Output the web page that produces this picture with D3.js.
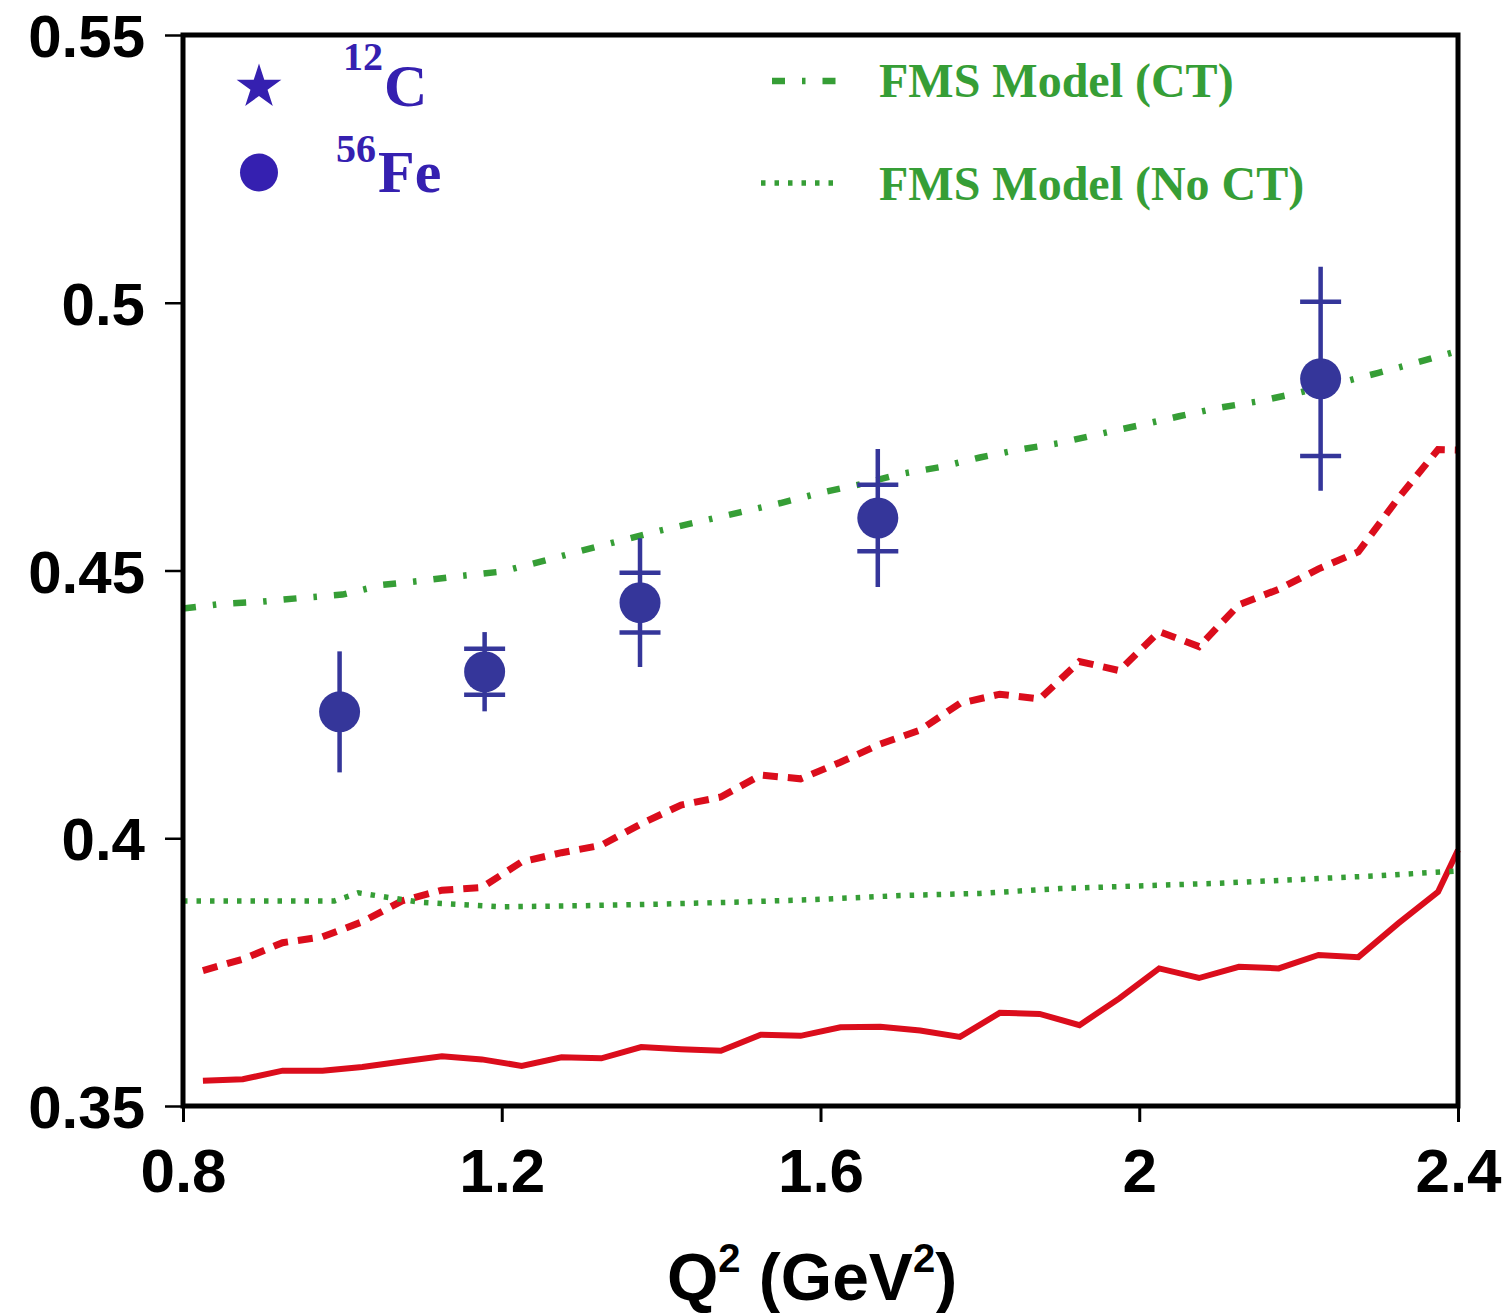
<!DOCTYPE html>
<html><head><meta charset="utf-8">
<script src="https://cdn.jsdelivr.net/npm/d3@7/dist/d3.min.js"></script>
<style>body{margin:0;background:#fff}</style>
</head><body><svg id="chart" width="1502" height="1313"></svg>
<script>
// ---- data ----
const gridQ = [0.825,0.875,0.925,0.975,1.025,1.075,1.125,1.175,1.225,1.275,1.325,1.375,1.425,1.475,1.525,1.575,1.625,1.675,1.725,1.775,1.825,1.875,1.925,1.975,2.025,2.075,2.125,2.175,2.225,2.275,2.325,2.375,2.4];
const redSolid = [0.3547,0.3550,0.3566,0.3566,0.3573,0.3583,0.3593,0.3587,0.3575,0.3591,0.3589,0.3610,0.3606,0.3603,0.3633,0.3631,0.3647,0.3648,0.3641,0.3629,0.3674,0.3672,0.3651,0.3701,0.3757,0.3739,0.3760,0.3757,0.3782,0.3778,0.3841,0.3900,0.3978];
const redDashed = [0.3753,0.3774,0.3805,0.3816,0.3844,0.3883,0.3903,0.3908,0.3956,0.3973,0.3987,0.4027,0.4062,0.4077,0.4118,0.4111,0.4142,0.4176,0.4202,0.4252,0.4269,0.4260,0.4330,0.4313,0.4386,0.4358,0.4436,0.4465,0.4503,0.4535,0.4635,0.4726,0.4725];
const ctQ = [0.80,0.85,0.90,0.95,1.00,1.05,1.10,1.15,1.20,1.25,1.30,1.35,1.40,1.45,1.50,1.55,1.60,1.65,1.70,1.75,1.80,1.85,1.90,1.95,2.00,2.05,2.10,2.15,2.20,2.25,2.30,2.35,2.40];
const ctVal = [0.4429,0.4438,0.4442,0.4449,0.4455,0.4473,0.4481,0.4490,0.4498,0.4517,0.4537,0.4556,0.4575,0.4592,0.4609,0.4626,0.4645,0.4661,0.4680,0.4693,0.4711,0.4726,0.4738,0.4755,0.4771,0.4788,0.4804,0.4816,0.4832,0.4850,0.4869,0.4889,0.4910];
const noCtQ = [0.80,0.99,1.02,1.10,1.20,1.30,1.40,1.50,1.60,1.70,1.80,1.90,2.00,2.10,2.20,2.30,2.40];
const noCtVal = [0.3883,0.3883,0.3898,0.3880,0.3872,0.3874,0.3877,0.3881,0.3886,0.3893,0.3897,0.3906,0.3911,0.3916,0.3923,0.3930,0.3939];
const feQ = [0.9965,1.1785,1.3735,1.6719,2.2276];
const feVal = [0.4236,0.4311,0.4440,0.4598,0.4858];
const feStat = [0,0.0043,0.0056,0.0062,0.0144];
const feTot = [0.0113,0.0074,0.0120,0.0129,0.0209];
const xTicks = [0.8,1.2,1.6,2.0,2.4];
const xTickLabels = ["0.8","1.2","1.6","2","2.4"];
const yTicks = [0.35,0.4,0.45,0.5,0.55];
const yTickLabels = ["0.35","0.4","0.45","0.5","0.55"];
const legendRight = ["FMS Model (CT)","FMS Model (No CT)"];

// ---- styles ----
const RED = "#db0d1c", GREEN = "#369e36", BLUE = "#35369a", LBLUE = "#3520b0";
const svg = d3.select("#chart");
svg.append("rect").attr("width",1502).attr("height",1313).attr("fill","#fff");

const x = d3.scaleLinear().domain([0.8,2.4]).range([183,1458]);
const y = d3.scaleLinear().domain([0.35,0.55]).range([1106,35]);

// axes
const xAxis = d3.axisBottom(x).tickValues(xTicks).tickSize(16).tickPadding(26)
  .tickFormat((d,i)=>xTickLabels[i]);
const gx = svg.append("g").attr("transform","translate(0,1106)").call(xAxis);
gx.select(".domain").remove();
gx.selectAll(".tick line").attr("stroke","#000").attr("stroke-width",3);
gx.selectAll(".tick text").attr("font-family","'Liberation Sans', Arial, sans-serif")
  .attr("font-weight","bold").attr("font-size",62).attr("fill","#000");

const yAxis = d3.axisLeft(y).tickValues(yTicks).tickSize(18).tickPadding(20)
  .tickFormat((d,i)=>yTickLabels[i]);
const gy = svg.append("g").attr("transform","translate(183,0)").call(yAxis);
gy.select(".domain").remove();
gy.selectAll(".tick line").attr("stroke","#000").attr("stroke-width",2.5);
gy.selectAll(".tick text").attr("font-family","'Liberation Sans', Arial, sans-serif")
  .attr("font-weight","bold").attr("font-size",60).attr("fill","#000").attr("dy","0.36em");

// curves
const line = d3.line().x(d=>x(d[0])).y(d=>y(d[1]));
const plot = svg.append("g");
plot.append("path").datum(gridQ.map((q,i)=>[q,redSolid[i]])).attr("d",line)
  .attr("fill","none").attr("stroke",RED).attr("stroke-width",6).attr("stroke-linejoin","miter");
plot.append("path").datum(gridQ.map((q,i)=>[q,redDashed[i]])).attr("d",line)
  .attr("fill","none").attr("stroke",RED).attr("stroke-width",7).attr("stroke-dasharray","15,10");
plot.append("path").datum(ctQ.map((q,i)=>[q,ctVal[i]])).attr("d",line)
  .attr("fill","none").attr("stroke",GREEN).attr("stroke-width",6.5).attr("stroke-dasharray","13,17,3.5,17");
plot.append("path").datum(noCtQ.map((q,i)=>[q,noCtVal[i]])).attr("d",line)
  .attr("fill","none").attr("stroke",GREEN).attr("stroke-width",5.5).attr("stroke-dasharray","4.5,9");

// data points with error bars
const pts = svg.append("g");
feQ.forEach((q,i)=>{
  const cx = x(q);
  pts.append("line").attr("x1",cx).attr("x2",cx)
    .attr("y1",y(feVal[i]+feTot[i])).attr("y2",y(feVal[i]-feTot[i]))
    .attr("stroke",BLUE).attr("stroke-width",4.5);
  if (feStat[i] > 0) {
    [feVal[i]+feStat[i], feVal[i]-feStat[i]].forEach(v=>{
      pts.append("line").attr("x1",cx-20.5).attr("x2",cx+20.5)
        .attr("y1",y(v)).attr("y2",y(v)).attr("stroke",BLUE).attr("stroke-width",4.5);
    });
  }
  pts.append("circle").attr("cx",cx).attr("cy",y(feVal[i])).attr("r",20.5).attr("fill",BLUE);
});

// frame
svg.append("rect").attr("x",183).attr("y",35).attr("width",1275).attr("height",1071)
  .attr("fill","none").attr("stroke","#000").attr("stroke-width",5);

// legend left
svg.append("path").attr("d",d3.symbol(d3.symbolStar).size(620)())
  .attr("transform","translate(259,87)").attr("fill",LBLUE);
svg.append("circle").attr("cx",259).attr("cy",172.5).attr("r",19).attr("fill",LBLUE);
const serif = "'Liberation Serif','Times New Roman',serif";
const lt = svg.append("g").attr("font-family",serif).attr("font-weight","bold").attr("fill",LBLUE);
lt.append("text").attr("x",343).attr("y",70).attr("font-size",40).text("12");
lt.append("text").attr("x",384).attr("y",106).attr("font-size",60).text("C");
lt.append("text").attr("x",336).attr("y",162).attr("font-size",40).text("56");
lt.append("text").attr("x",378).attr("y",192).attr("font-size",60).text("Fe");

// legend right
svg.append("line").attr("x1",772).attr("x2",837).attr("y1",81).attr("y2",81)
  .attr("stroke",GREEN).attr("stroke-width",6.5).attr("stroke-dasharray","13,17,3.5,17");
svg.append("line").attr("x1",761).attr("x2",834).attr("y1",183).attr("y2",183)
  .attr("stroke",GREEN).attr("stroke-width",5.5).attr("stroke-dasharray","4.5,9");
const rt = svg.append("g").attr("font-family",serif).attr("font-weight","bold").attr("fill",GREEN).attr("font-size",48);
rt.append("text").attr("x",879).attr("y",97).text(legendRight[0]);
rt.append("text").attr("x",879).attr("y",200).text(legendRight[1]);

// x axis title
const xt = svg.append("text").attr("x",812).attr("y",1300).attr("text-anchor","middle")
  .attr("font-family","'Liberation Sans', Arial, sans-serif").attr("font-weight","bold")
  .attr("font-size",66).attr("fill","#000");
xt.append("tspan").text("Q");
xt.append("tspan").attr("font-size",40).attr("dy",-28).text("2");
xt.append("tspan").attr("dy",28).text(" (GeV");
xt.append("tspan").attr("font-size",40).attr("dy",-28).text("2");
xt.append("tspan").attr("dy",28).text(")");
</script></body></html>
